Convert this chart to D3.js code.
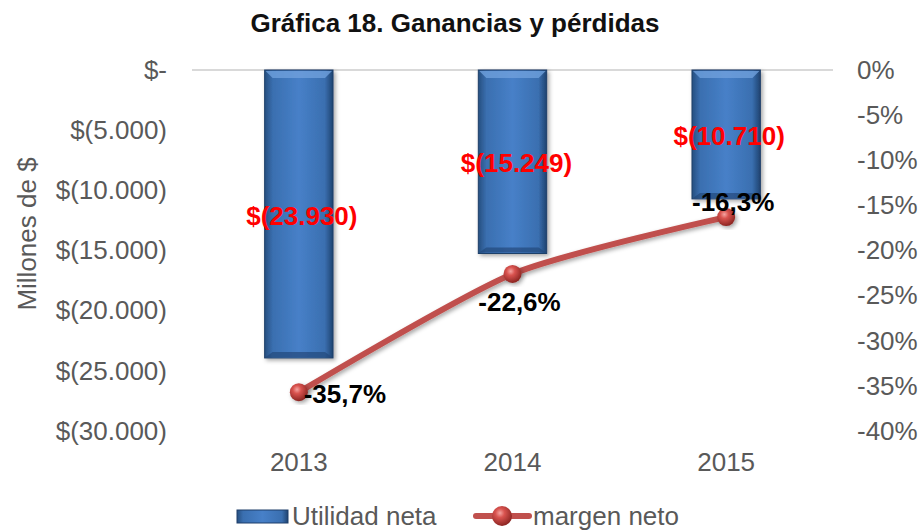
<!DOCTYPE html>
<html>
<head>
<meta charset="utf-8">
<script src="https://cdn.jsdelivr.net/npm/d3@7"></script>
<style>
	body { margin: 0; background: #fff; }
	svg { font-family: Arial, "Liberation Sans", sans-serif; }
</style>
</head>
<body>
<script>
// data
const years    = ["2013", "2014", "2015"];
const utilidad = [-23930, -15249, -10710];
const margen   = [-35.7, -22.6, -16.3];
const utilLabels   = ["$(23.930)", "$(15.249)", "$(10.710)"];
const margenLabels = ["-35,7%", "-22,6%", "-16,3%"];
const leftTicks    = [0, -5000, -10000, -15000, -20000, -25000, -30000];
const rightTicks   = [0, -5, -10, -15, -20, -25, -30, -35, -40];

const width = 922, height = 531;
const margins = { left: 192, right: 89, top: 70, bottom: 100 };
const _w = width - margins.left - margins.right;
const _h = height - margins.top - margins.bottom;
const FS = 26;

const fmtMoney = v => v === 0 ? "$-" : "$(" + d3.format(",")(-v).replace(/,/g, ".") + ")";

const svg = d3.select("body").append("svg")
	.attr("width", width)
	.attr("height", height);

const defs = svg.append("defs");

const barGrad = defs.append("linearGradient").attr("id", "barGrad")
	.attr("x1", 0).attr("x2", 1).attr("y1", 0).attr("y2", 0);
barGrad.append("stop").attr("offset", "0%").attr("stop-color", "#264f80");
barGrad.append("stop").attr("offset", "12%").attr("stop-color", "#3a6fb0");
barGrad.append("stop").attr("offset", "50%").attr("stop-color", "#4780c8");
barGrad.append("stop").attr("offset", "88%").attr("stop-color", "#3a6fb0");
barGrad.append("stop").attr("offset", "100%").attr("stop-color", "#1f4370");

const ballGrad = defs.append("radialGradient").attr("id", "ballGrad")
	.attr("cx", "40%").attr("cy", "35%").attr("r", "65%");
ballGrad.append("stop").attr("offset", "0%").attr("stop-color", "#f4a3a0");
ballGrad.append("stop").attr("offset", "35%").attr("stop-color", "#d9534f");
ballGrad.append("stop").attr("offset", "100%").attr("stop-color", "#8c2522");

const shadow = defs.append("filter").attr("id", "shadow")
	.attr("x", "-20%").attr("y", "-10%").attr("width", "150%").attr("height", "130%");
shadow.append("feDropShadow").attr("dx", 2).attr("dy", 2).attr("stdDeviation", 2)
	.attr("flood-color", "#000").attr("flood-opacity", 0.35);

const g = svg.append("g").attr("transform", `translate(${margins.left},${margins.top})`);

// scales
const x = d3.scaleBand().domain(years).range([0, _w]).paddingInner(0.68).paddingOuter(0.34);
const yL = d3.scaleLinear().domain([0, -30000]).range([0, _h]);
const yR = d3.scaleLinear().domain([0, -40]).range([0, _h]);

// title
svg.append("text")
	.attr("x", 455).attr("y", 32)
	.attr("text-anchor", "middle")
	.attr("font-family", "'Liberation Sans Narrow', Arial, sans-serif")
	.attr("font-weight", "700")
	.attr("font-size", 26)
	.attr("fill", "#111")
	.text("Gráfica 18. Ganancias y pérdidas");

// zero line
g.append("line")
	.attr("x1", 0).attr("x2", _w)
	.attr("y1", yL(0)).attr("y2", yL(0))
	.attr("stroke", "#d9d9d9").attr("stroke-width", 2);

// left axis
const axL = g.append("g").attr("transform", "translate(-25,0)")
	.call(d3.axisLeft(yL).tickValues(leftTicks).tickFormat(fmtMoney).tickSize(0).tickPadding(0));
axL.select(".domain").remove();
axL.selectAll("text").attr("font-size", FS).attr("fill", "#595959").attr("font-family", "Arial, 'Liberation Sans', sans-serif");

// right axis
const axR = g.append("g").attr("transform", `translate(${_w + 24},0)`)
	.call(d3.axisRight(yR).tickValues(rightTicks).tickFormat(d => d + "%").tickSize(0).tickPadding(0));
axR.select(".domain").remove();
axR.selectAll("text").attr("font-size", FS).attr("fill", "#595959").attr("font-family", "Arial, 'Liberation Sans', sans-serif");

// x axis
const axX = g.append("g").attr("transform", `translate(0,${_h})`)
	.call(d3.axisBottom(x).tickSize(0).tickPadding(22));
axX.select(".domain").remove();
axX.selectAll("text").attr("font-size", FS).attr("fill", "#595959").attr("font-family", "Arial, 'Liberation Sans', sans-serif");

// y axis title
svg.append("text")
	.attr("transform", "translate(27,234) rotate(-90)")
	.attr("text-anchor", "middle")
	.attr("dominant-baseline", "central")
	.attr("font-size", FS)
	.attr("fill", "#595959")
	.text("Millones de $");

// bars
const bars = g.append("g");
years.forEach((yr, i) => {
	const bx = x(yr), bw = x.bandwidth();
	const by = yL(0), bh = yL(utilidad[i]) - yL(0);
	const bg = bars.append("g").attr("filter", "url(#shadow)");
	bg.append("rect")
		.attr("x", bx).attr("y", by).attr("width", bw).attr("height", bh)
		.attr("fill", "url(#barGrad)")
		.attr("stroke", "#1f3f6a").attr("stroke-width", 1);
	// bevel highlight on top
	bg.append("path")
		.attr("d", `M${bx + 1},${by + 1}L${bx + bw - 1},${by + 1}L${bx + bw - 8},${by + 8}L${bx + 8},${by + 8}Z`)
		.attr("fill", "#6fa0dc").attr("opacity", 0.8);
	// bevel shade on bottom
	bg.append("path")
		.attr("d", `M${bx + 1},${by + bh - 1}L${bx + bw - 1},${by + bh - 1}L${bx + bw - 8},${by + bh - 6}L${bx + 8},${by + bh - 6}Z`)
		.attr("fill", "#24497a").attr("opacity", 0.7);
});

// line
const line = d3.line()
	.curve(d3.curveCardinal.tension(0.3))
	.x((d, i) => x(years[i]) + x.bandwidth() / 2)
	.y(d => yR(d));

g.append("path")
	.datum(margen)
	.attr("d", line)
	.attr("fill", "none")
	.attr("stroke", "#c0504d")
	.attr("stroke-width", 6)
	.attr("stroke-linecap", "round")
	.attr("filter", "url(#shadow)");

g.append("g").selectAll("circle")
	.data(margen)
	.join("circle")
	.attr("cx", (d, i) => x(years[i]) + x.bandwidth() / 2)
	.attr("cy", d => yR(d))
	.attr("r", 9)
	.attr("fill", "url(#ballGrad)")
	.attr("filter", "url(#shadow)");

// bar labels
const utilLabelPos = [-12130, -7730, -5480];
const utilLabelDx  = [3, 4, 3];
g.append("g").selectAll("text")
	.data(utilLabels)
	.join("text")
	.attr("x", (d, i) => x(years[i]) + x.bandwidth() / 2 + utilLabelDx[i])
	.attr("y", (d, i) => yL(utilLabelPos[i]))
	.attr("text-anchor", "middle")
	.attr("dominant-baseline", "central")
	.attr("font-size", FS)
	.attr("font-weight", "700")
	.attr("fill", "#ff0000")
	.text(d => d);

// line labels
const margenDx = [46, 7, 7];
const margenDy = [2, 28, -15];
g.append("g").selectAll("text")
	.data(margenLabels)
	.join("text")
	.attr("x", (d, i) => x(years[i]) + x.bandwidth() / 2 + margenDx[i])
	.attr("y", (d, i) => yR(margen[i]) + margenDy[i])
	.attr("text-anchor", "middle")
	.attr("dominant-baseline", "central")
	.attr("font-size", FS)
	.attr("font-weight", "700")
	.attr("fill", "#000")
	.text(d => d);

// legend
const leg = svg.append("g").attr("transform", "translate(0,516)");
leg.append("rect")
	.attr("x", 237).attr("y", -6).attr("width", 51).attr("height", 13)
	.attr("fill", "url(#barGrad)").attr("stroke", "#1f3f6a");
leg.append("text")
	.attr("x", 292).attr("y", 0).attr("dominant-baseline", "central")
	.attr("font-size", FS).attr("fill", "#595959")
	.text("Utilidad neta");
leg.append("line")
	.attr("x1", 476).attr("x2", 529).attr("y1", 0).attr("y2", 0)
	.attr("stroke", "#c0504d").attr("stroke-width", 6).attr("stroke-linecap", "round");
leg.append("circle")
	.attr("cx", 502).attr("cy", 0).attr("r", 10)
	.attr("fill", "url(#ballGrad)");
leg.append("text")
	.attr("x", 533).attr("y", 0).attr("dominant-baseline", "central")
	.attr("font-size", FS).attr("fill", "#595959")
	.text("margen neto");
</script>
</body>
</html>
